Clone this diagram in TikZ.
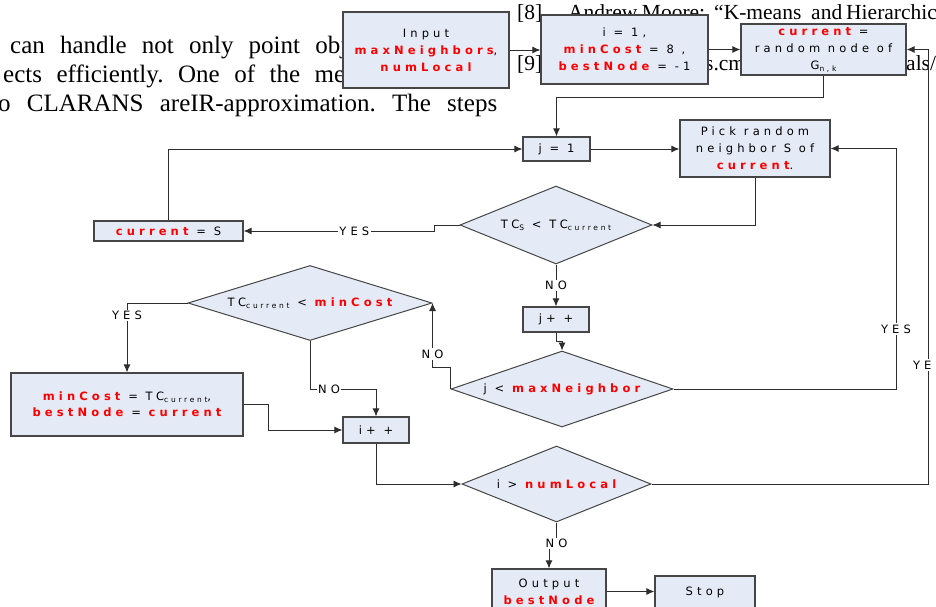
\documentclass[tikz,border=0pt]{standalone}
\usepackage{fontspec}
\usetikzlibrary{shapes.geometric,arrows.meta}
\setmainfont{Liberation Serif}
\newfontfamily\dfont[LetterSpace=36]{DejaVu Sans}
\definecolor{boxfill}{RGB}{229,235,246}
\definecolor{boxline}{RGB}{70,70,70}
\definecolor{conn}{RGB}{45,45,45}
\definecolor{hl}{RGB}{255,0,0}
\newcommand\hlb[1]{\textcolor{hl}{\bfseries #1}}
\newcommand\dsub[1]{\raisebox{-0.3ex}{\fontsize{7.5}{8}\selectfont #1}}
\frenchspacing
\begin{document}
\begin{tikzpicture}[x=1pt,y=-1pt,
  box/.style={draw=boxline, line width=1.2pt, fill=boxfill, inner sep=0pt, align=center, font=\dfont\fontsize{11.5}{17}\selectfont},
  dia/.style={draw=boxline, line width=1pt, fill=boxfill, diamond, inner sep=0pt},
  dtext/.style={font=\dfont\fontsize{11.5}{17}\selectfont, inner sep=0pt},
  arr/.style={draw=conn, line width=0.9pt, -{Latex[length=8pt,width=7pt]}},
  lbl/.style={fill=white, inner sep=1.5pt, font=\dfont\fontsize{11.5}{12}\selectfont},
  bg/.style={font=\fontsize{25}{30}\selectfont, inner sep=0pt, anchor=base west},
  bgr/.style={font=\fontsize{21.5}{26}\selectfont, inner sep=0pt, anchor=base west}]
\useasboundingbox (0,0) rectangle (936,607);
\begin{scope}
\clip (0,0) rectangle (936,607);
% background page text
\node[bg] (t1) at (10,54) {\makebox[337pt][s]{can handle not only point obj}};
\node[bg] (t2) at (3,83) {\makebox[342pt][s]{ects efficiently. One of the me}};
\node[bg] (t3) at (-2,112) {\makebox[499pt][s]{o CLARANS areIR-approximation. The steps}};
\node[bgr] (r8) at (517,20) {[8]};
\node[bgr] (r8b) at (568,20) {\makebox[137pt][s]{Andrew Moore:}};
\node[bgr] (r8c) at (714,20) {“K-means};
\node[bgr] (r8d) at (811,20) {and};
\node[bgr] (r8e) at (846,20) {Hierarchical};
\node[bgr] (r9) at (517,71) {[9]};
\node[bgr] (r9b) at (705,71) {s.cm};
\node[bgr] (r9c) at (906,71) {als/k};
% boxes
\node[box, minimum width=166pt, minimum height=76pt] (inp) at (426,50) {Input\\\hlb{maxNeighbors},\\\hlb{numLocal}};
\node[box, minimum width=167pt, minimum height=69pt] (init) at (624.5,49.5) {i = 1,\\\hlb{minCost} = 8 ,\\\hlb{bestNode} = -1};
\node[box, minimum width=165pt, minimum height=51pt] (cur) at (823.5,49.5) {\hlb{current} =\\random node of\\G\dsub{n,k}};
\node[box, minimum width=67pt, minimum height=24pt] (j1) at (556.5,149) {j = 1};
\node[box, minimum width=150pt, minimum height=57pt] (pick) at (755,148.5) {Pick random\\neighbor S of\\\hlb{current}.};
\node[dia, minimum width=192pt, minimum height=78pt] (d1) at (556,225) {};
\node[dtext] (d1t) at (d1) {TC\dsub{S} < TC\dsub{current}};
\node[box, minimum width=149pt, minimum height=20pt] (curS) at (168.5,231) {\hlb{current} = S};
\node[dia, minimum width=244pt, minimum height=75pt] (d3) at (310,303) {};
\node[dtext] (d3t) at (d3) {TC\dsub{current} < \hlb{minCost}};
\node[box, minimum width=66pt, minimum height=25pt] (jpp) at (556,319.5) {j+ +};
\node[dia, minimum width=222pt, minimum height=76pt] (d2) at (562,389) {};
\node[dtext] (d2t) at (d2) {j < \hlb{maxNeighbor}};
\node[box, minimum width=232pt, minimum height=63pt, font=\dfont\fontsize{11.5}{16}\selectfont] (minc) at (127,404.5) {\hlb{minCost} = TC\dsub{current},\\\hlb{bestNode} = \hlb{current}};
\node[box, minimum width=66pt, minimum height=26pt] (ipp) at (376,430) {i+ +};
\node[dia, minimum width=189pt, minimum height=76pt] (d4) at (556.5,484) {};
\node[dtext] (d4t) at (d4) {i > \hlb{numLocal}};
\node[box, minimum width=114pt, minimum height=45pt] (outp) at (549,591.5) {Output\\\hlb{bestNode}};
\node[box, minimum width=100pt, minimum height=32pt] (stop) at (705,592) {Stop};
% helper coordinates
\coordinate (ry) at (896,148.5);
\coordinate (ry2) at (928,49.5);
% connectors
\draw[arr] (inp.east) -- (inp.east -| init.west);
\draw[arr] (init.east) -- (init.east -| cur.west);
\draw[arr] (cur.south) -- (cur.south |- 0,97) -| (j1.north);
\draw[arr] (j1.east) -- (j1.east -| pick.west);
\draw[arr] (pick.south) |- (d1.east);
\draw[arr] (d1.west) -- ++(-25,0) |- node[lbl, pos=0.71]{YES} (curS.east);
\draw[arr] (curS.north) |- (j1.west);
\draw[arr] (d1.south) -- node[lbl]{NO} (jpp.north);
\draw[arr] (jpp.south) -- ++(0,9) -| (d2.north);
\draw[arr] (d2.east) -| node[lbl, pos=0.625]{YES} (ry) -- (pick.east);
\draw[arr] (d2.west) -- ++(0,-22) -| node[lbl, pos=0.6]{NO} (d3.east);
\draw[arr] (d3.west) -| node[lbl, pos=0.59]{YES} (minc.north);
\draw[arr] (d3.south) |- node[lbl, pos=0.644]{NO} (ipp.north |- 0,389) -- (ipp.north);
\draw[arr] (minc.east) -- ++(25,0) |- (ipp.west);
\draw[arr] (ipp.south) |- (d4.west);
\draw[arr] (d4.east) -| node[lbl, pos=0.637]{YES} (ry2) -- (cur.east);
\draw[arr] (d4.south) -- ++(0,21) node[lbl]{NO} -| (outp.north);
\draw[arr] (outp.east) -- (outp.east -| stop.west);
\end{scope}
\end{tikzpicture}
\end{document}
